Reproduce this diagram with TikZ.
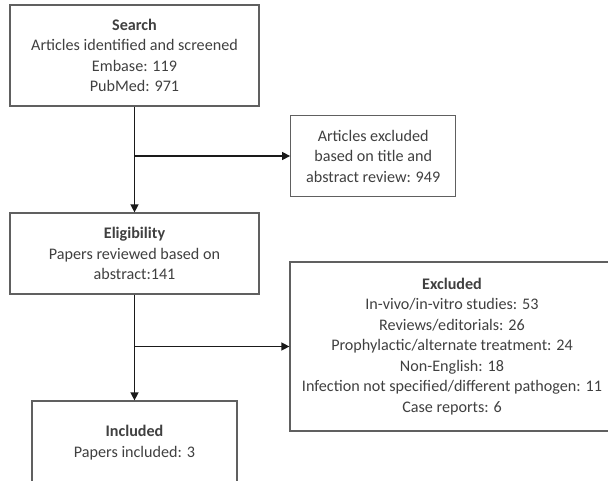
\documentclass[tikz,border=0pt]{standalone}
\usepackage{fontspec}
\setmainfont{Carlito}
\usetikzlibrary{arrows.meta}
\definecolor{txt}{HTML}{404040}
\definecolor{bord}{HTML}{606060}
\definecolor{ln}{HTML}{1A1A1A}
\begin{document}
\begin{tikzpicture}[x=0.75pt,y=-0.75pt,
  box/.style={draw=bord,line width=0.9pt,rectangle,inner sep=0pt,align=center,text=txt,
    font=\fontsize{12.1pt}{15.4pt}\selectfont},
  conn/.style={draw=ln,line width=1pt},
  arr/.style={conn,-{Triangle[length=6pt,width=6pt]}}]
\clip (0,0) rectangle (608,481);
\fill[white] (0,0) rectangle (608,481);
\node[box,minimum width=186.75pt,minimum height=75.75pt] (search) at (134.5,55.5)
  {\textbf{Search}\\Articles identified and screened\\Embase: 119\\PubMed: 971};
\node[box,minimum width=123.75pt,minimum height=61.3pt] (exa) at (373.2,156)
  {Articles excluded\\based on title and\\abstract review: 949};
\node[box,minimum width=186.75pt,minimum height=60.75pt] (elig) at (134.5,253.5)
  {\textbf{Eligibility}\\Papers reviewed based on\\abstract:141};
\node[box,minimum width=243pt,minimum height=126.75pt] (exb) at (452,346.5)
  {\textbf{Excluded}\\In-vivo/in-vitro studies: 53\\Reviews/editorials: 26\\Prophylactic/alternate treatment: 24\\Non-English: 18\\Infection not specified/different pathogen: 11\\Case reports: 6};
\node[box,minimum width=153.75pt,minimum height=62.25pt] (incl) at (134.5,442.5)
  {\textbf{Included}\\Papers included: 3};
\coordinate (j1) at (search.south |- exa.west);
\coordinate (j2) at (elig.south |- exb.west);
\draw[arr] (search.south) -- (elig.north);
\draw[arr] (j1) -- (exa.west);
\draw[arr] (elig.south) -- (incl.north);
\draw[arr] (j2) -- (exb.west);
\end{tikzpicture}
\end{document}
